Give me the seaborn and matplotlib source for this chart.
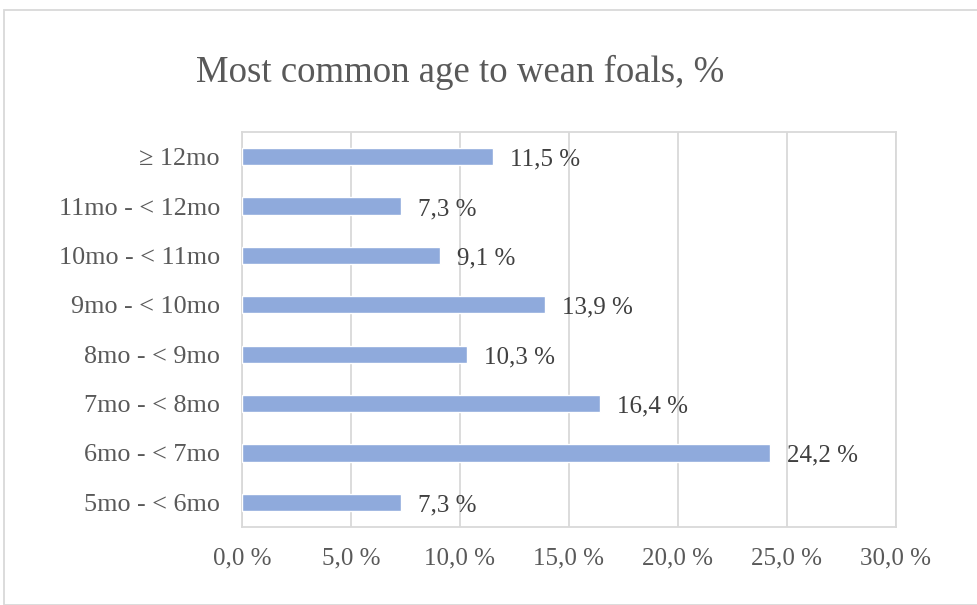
import matplotlib
matplotlib.use("Agg")
import matplotlib.pyplot as plt
import seaborn as sns
import pandas as pd
from matplotlib.patches import Rectangle

categories = ["≥ 12mo", "11mo - < 12mo", "10mo - < 11mo", "9mo - < 10mo",
              "8mo - < 9mo", "7mo - < 8mo", "6mo - < 7mo", "5mo - < 6mo"]
shares = [11.5, 7.3, 9.1, 13.9, 10.3, 16.4, 24.2, 7.3]
x_ticks = [0, 5, 10, 15, 20, 25, 30]
x_tick_labels = ["0,0 %", "5,0 %", "10,0 %", "15,0 %", "20,0 %", "25,0 %", "30,0 %"]
title = "Most common age to wean foals, %"

df = pd.DataFrame({"age": categories, "share": shares})

sns.set_theme(style="white")
plt.rcParams["font.family"] = ["Liberation Serif", "DejaVu Serif"]

fig = plt.figure(figsize=(9.78, 6.05), dpi=100)
W, H = 978, 605
ax = fig.add_axes([242 / W, 1 - 527 / H, (896 - 242) / W, (527 - 132) / H])

sns.barplot(data=df, x="share", y="age", orient="h", color="#8FAADC",
            saturation=1, width=0.35, ax=ax, zorder=3)

ax.set_xlim(0, 30)
ax.set_ylim(7.5, -0.5)
ax.set_xticks(x_ticks)
ax.set_xticklabels(x_tick_labels)
ax.set_xlabel("")
ax.set_ylabel("")
ax.grid(axis="x", color="#D9D9D9", linewidth=1.3, zorder=0)
ax.grid(axis="y", visible=False)
for s in ax.spines.values():
    s.set_color("#D9D9D9")
    s.set_linewidth(1.3)
ax.tick_params(axis="both", length=0, colors="#595959")
ax.tick_params(axis="y", pad=16, labelsize=18.8)
ax.tick_params(axis="x", pad=14.5, labelsize=18)

for i, v in enumerate(shares):
    ax.annotate(f"{v:.1f} %".replace(".", ","), xy=(v, i), xytext=(17, -3),
                textcoords="offset pixels", va="center", ha="left",
                fontsize=18, color="#404040", zorder=4)

fig.text(460 / W, 1 - 72 / H, title, ha="center", va="center",
         fontsize=26.5, color="#595959")

fig.patches.append(Rectangle((4 / W, 0), 1, 1 - 10 / H, transform=fig.transFigure,
                             fill=False, edgecolor="#D9D9D9", linewidth=1.3))

fig.savefig("out.png", dpi=100)
